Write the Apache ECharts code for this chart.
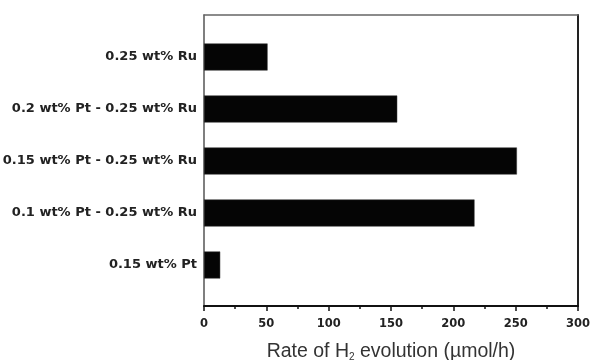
<!DOCTYPE html>
<html>
<head>
<meta charset="utf-8">
<script src="https://cdn.jsdelivr.net/npm/echarts@6/dist/echarts.min.js"></script>
<style>
  html, body { margin: 0; padding: 0; background: #fff; }
  #main { width: 593px; height: 360px; }
</style>
</head>
<body>
<div id="main"></div>
<script>
  // categories, bottom to top
  var catalysts = [
    '0.15 wt% Pt',
    '0.1 wt% Pt - 0.25 wt% Ru',
    '0.15 wt% Pt - 0.25 wt% Ru',
    '0.2 wt% Pt - 0.25 wt% Ru',
    '0.25 wt% Ru'
  ];
  // rate of H2 evolution (umol/h)
  var h2Rates = [13, 217, 251, 155, 51];
  var rateTicks = [0, 50, 100, 150, 200, 250, 300];

  var chart = echarts.init(document.getElementById('main'));

  var gridLeft = 204, gridRight = 15;

  var option = {
    animation: false,
    backgroundColor: '#fff',
    grid: [
      // frame + axis
      { left: gridLeft, right: gridRight, top: 15, bottom: 54, outerBoundsMode: 'none' },
      // bars
      { left: gridLeft, right: gridRight, top: 31, bottom: 69, outerBoundsMode: 'none' }
    ],
    xAxis: [
      {
        gridIndex: 0,
        type: 'value',
        min: rateTicks[0],
        max: rateTicks[rateTicks.length - 1],
        interval: 50,
        position: 'bottom',
        axisLine: { show: true, onZero: false, lineStyle: { color: '#111', width: 2 } },
        axisTick: { show: true, inside: false, length: 5, lineStyle: { color: '#111', width: 1.5 } },
        minorTick: { show: true, splitNumber: 2, length: 3, lineStyle: { color: '#111', width: 1.5 } },
        splitLine: { show: false },
        axisLabel: {
          margin: 12,
          color: '#222',
          fontFamily: 'DejaVu Sans',
          fontWeight: 'bold',
          fontSize: 11.5
        },
        name: '{n|Rate of H}{s|2}{n| evolution (µmol/h)}',
        nameLocation: 'middle',
        nameGap: 36,
        nameTextStyle: {
          rich: {
            n: { fontFamily: 'Liberation Sans', fontSize: 19.5, color: '#333' },
            s: { fontFamily: 'Liberation Sans', fontSize: 10, color: '#333', verticalAlign: 'bottom', padding: [9, 0, 0, 0] }
          }
        }
      },
      {
        gridIndex: 0,
        type: 'value',
        min: 0,
        max: 300,
        position: 'top',
        axisLine: { show: true, onZero: false, lineStyle: { color: '#666', width: 1.5 } },
        axisTick: { show: false },
        axisLabel: { show: false },
        splitLine: { show: false }
      },
      {
        gridIndex: 1,
        type: 'value',
        min: 0,
        max: 300,
        show: false
      }
    ],
    yAxis: [
      {
        gridIndex: 0,
        type: 'value',
        position: 'left',
        axisLine: { show: true, onZero: false, lineStyle: { color: '#555', width: 1.5 } },
        axisTick: { show: false },
        axisLabel: { show: false },
        splitLine: { show: false }
      },
      {
        gridIndex: 0,
        type: 'value',
        position: 'right',
        axisLine: { show: true, onZero: false, lineStyle: { color: '#222', width: 2 } },
        axisTick: { show: false },
        axisLabel: { show: false },
        splitLine: { show: false }
      },
      {
        gridIndex: 1,
        type: 'category',
        data: catalysts,
        axisLine: { show: false },
        axisTick: { show: false },
        axisLabel: {
          margin: 7,
          color: '#222',
          fontFamily: 'DejaVu Sans',
          fontWeight: 'bold',
          fontSize: 13
        }
      }
    ],
    series: [
      {
        name: 'H2 evolution',
        type: 'bar',
        xAxisIndex: 2,
        yAxisIndex: 2,
        data: h2Rates,
        barWidth: 27,
        itemStyle: { color: '#050505', borderColor: '#333', borderWidth: 0.5 }
      }
    ]
  };

  chart.setOption(option);
</script>
</body>
</html>
